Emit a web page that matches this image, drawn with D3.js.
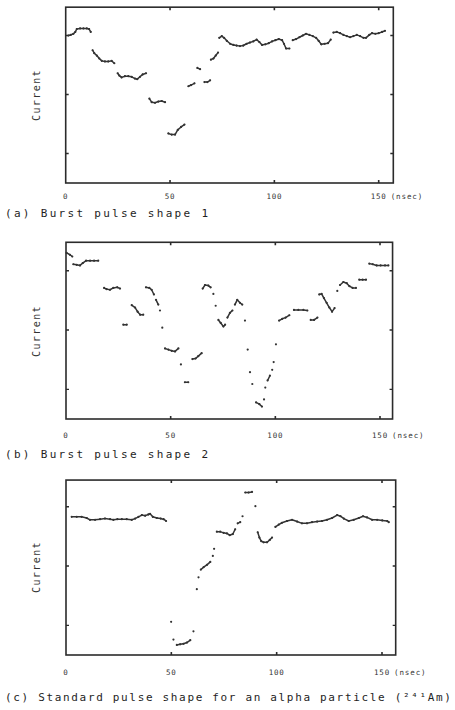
<!DOCTYPE html>
<html>
<head>
<meta charset="utf-8">
<script src="https://cdn.jsdelivr.net/npm/d3@7"></script>
<style>
  body { margin: 0; background: #fff; }
  svg { display: block; }
  text { font-family: "DejaVu Sans Mono", monospace; fill: #333; }
</style>
</head>
<body>
<svg id="chart" width="455" height="710"></svg>
<script>
// tick values and captions
var xTicks = [0, 50, 100, 150];
var yTicks = [0.5, 1.5, 2.5];
var captions = ["(a) Burst pulse shape 1", "(b) Burst pulse shape 2",
  "(c) Standard pulse shape for an alpha particle (\u00b2\u2074\u00b9Am)"];

// (a) burst pulse 1 : time (nsec), current (arb.)
var pulseATime = [1.3,2.4,3.7,4.6,5.3,6.9,8.5,10.1,11.2,12.0,
  12.9,13.7,14.9,16.1,17.3,18.8,20.4,22.0,23.3,
  24.9,25.7,26.8,28.4,30.0,31.6,33.2,34.3,35.6,36.9,38.5,
  40.1,41.2,42.8,44.4,46.0,47.6,
  49.2,50.8,52.4,53.7,55.3,56.9,
  58.8,60.1,61.7,63.1,64.4,66.5,67.9,69.2,
  69.6,70.8,71.9,73.0,
  73.6,74.8,75.9,77.2,78.8,80.4,81.9,83.5,85.1,86.7,88.3,89.9,91.5,92.8,94.1,95.7,97.3,98.9,
  100.5,102.1,103.7,104.6,105.6,107.2,108.8,110.4,112.0,113.6,115.2,116.8,118.4,120.0,121.2,
  122.5,124.1,125.7,127.0,128.3,129.9,131.5,133.1,134.7,136.3,137.9,139.5,141.1,142.7,143.9,
  145.5,146.8,148.4,150.0,151.6,153.0];
var pulseACurrent = [2.50,2.51,2.53,2.56,2.61,2.62,2.62,2.62,2.61,2.56,
  2.25,2.20,2.16,2.11,2.07,2.06,2.06,2.07,2.03,
  1.86,1.82,1.79,1.81,1.81,1.80,1.77,1.76,1.80,1.84,1.86,
  1.43,1.37,1.36,1.38,1.39,1.37,
  0.84,0.82,0.82,0.90,0.95,0.99,
  1.64,1.66,1.69,1.95,1.93,1.71,1.71,1.74,
  2.09,2.11,2.16,2.21,
  2.46,2.49,2.46,2.41,2.36,2.34,2.33,2.32,2.33,2.36,2.38,2.40,2.43,2.39,2.34,2.35,2.37,2.40,
  2.42,2.44,2.42,2.36,2.28,2.28,2.42,2.44,2.47,2.50,2.53,2.51,2.49,2.46,2.41,
  2.35,2.36,2.37,2.43,2.55,2.56,2.54,2.51,2.49,2.47,2.49,2.51,2.49,2.46,2.46,
  2.51,2.54,2.53,2.54,2.56,2.58];

// (b) burst pulse 2
var pulseBTime = [0.3,1.9,3.0,3.5,5.1,6.7,8.0,9.6,11.5,13.4,15.4,
  18.2,19.4,21.0,22.6,24.5,25.8,27.4,29.0,
  31.4,33.0,34.2,35.4,36.9,
  38.2,39.8,40.9,42.0,43.0,44.1,44.9,46.0,
  47.3,48.9,50.5,52.1,53.7,54.9,56.8,58.4,
  60.4,61.9,63.2,64.8,
  65.3,66.4,68.0,69.1,70.4,71.5,72.8,73.9,75.2,76.0,77.1,78.3,79.5,80.7,81.8,83.1,84.2,85.5,
  86.8,87.9,89.0,90.8,92.4,93.6,94.6,
  95.2,96.3,97.4,98.5,99.2,100.3,
  101.8,103.3,104.9,106.7,108.9,111.0,113.4,115.3,116.9,118.5,120.1,
  121.0,122.1,123.2,124.5,125.8,127.1,128.3,129.6,130.9,132.5,134.1,135.4,136.9,138.5,
  140.1,141.7,143.3,144.9,146.5,148.4,150.3,152.4,154.0];
var pulseBCurrent = [2.80,2.77,2.74,2.61,2.60,2.59,2.63,2.67,2.67,2.67,2.67,
  2.21,2.19,2.18,2.21,2.22,2.20,1.59,1.59,
  1.92,1.88,1.81,1.76,1.76,
  2.22,2.21,2.18,2.10,2.01,1.93,1.83,1.54,
  1.19,1.17,1.15,1.14,1.19,0.92,0.62,0.62,
  1.01,1.02,1.06,1.11,
  2.20,2.26,2.25,2.22,2.11,1.91,1.67,1.62,1.56,1.59,1.71,1.79,1.83,1.93,2.01,1.96,1.93,1.66,
  1.17,0.79,0.59,0.28,0.25,0.21,0.33,
  0.53,0.65,0.73,0.83,0.96,1.26,
  1.66,1.69,1.71,1.75,1.84,1.84,1.84,1.83,1.67,1.67,1.71,
  2.10,2.11,2.04,1.96,1.88,1.81,1.87,2.16,2.26,2.31,2.29,2.24,2.21,2.21,
  2.35,2.35,2.35,2.62,2.61,2.59,2.59,2.59,2.59];

// (c) standard alpha pulse (241Am)
var pulseCTime = [2.7,5.1,7.4,9.8,11.4,13.8,16.2,18.5,20.9,22.5,24.4,26.5,28.8,31.2,32.8,34.4,
  36.0,37.6,39.1,39.9,41.2,43.1,45.0,46.3,47.5,
  49.9,51.0,52.6,54.2,55.8,57.4,59.0,60.5,
  62.1,62.9,64.0,65.3,66.9,68.5,69.7,70.3,
  71.6,73.2,74.8,76.4,77.7,79.2,80.3,81.5,82.7,83.8,
  85.1,86.7,88.3,89.9,91.0,91.8,92.7,93.8,95.4,96.7,97.8,
  99.4,101.0,102.5,104.9,107.3,109.7,112.0,114.4,116.8,119.2,121.5,123.9,126.3,128.7,
  130.3,131.9,134.2,136.6,139.0,141.0,142.9,145.3,147.7,150.1,152.5,153.2];
var pulseCCurrent = [2.33,2.33,2.33,2.31,2.28,2.28,2.29,2.30,2.29,2.28,2.29,2.29,2.29,2.28,2.30,2.33,
  2.36,2.35,2.37,2.38,2.33,2.31,2.30,2.29,2.26,
  0.56,0.26,0.17,0.18,0.19,0.21,0.25,0.40,
  1.11,1.31,1.44,1.48,1.52,1.57,1.67,1.79,
  2.08,2.08,2.06,2.05,2.02,2.04,2.12,2.22,2.24,2.34,
  2.74,2.74,2.75,2.51,2.07,1.98,1.92,1.90,1.90,1.94,1.98,
  2.16,2.20,2.23,2.26,2.28,2.25,2.22,2.22,2.24,2.25,2.26,2.28,2.31,2.36,
  2.34,2.30,2.26,2.28,2.31,2.34,2.32,2.28,2.28,2.27,2.26,2.24];

var svg = d3.select("#chart");

// frame placement of each panel (pixels)
var panels = [
  {t: pulseATime, v: pulseACurrent, x0: 65.7, x150: 378.7, tMax: 157, bottom: 183, unit: 59, vTop: 2.98,
   labelY: 199, capY: 217, capW: 203, curX: 40, curY: 95, gap: 2.6},
  {t: pulseBTime, v: pulseBCurrent, x0: 66, x150: 380, tMax: 156, bottom: 419, unit: 59.3, vTop: 2.98,
   labelY: 438, capY: 458, capW: 203, curX: 40, curY: 331, gap: 2.6},
  {t: pulseCTime, v: pulseCCurrent, x0: 66, x150: 382, tMax: 156.5, bottom: 655, unit: 59.3, vTop: 2.95,
   labelY: 675, capY: 701, capW: 446, curX: 40, curY: 567, gap: 2.6}
];

panels.forEach(function(p, i) {
  var x = d3.scaleLinear().domain([0, 150]).range([p.x0, p.x150]);
  var y = d3.scaleLinear().domain([0, 3]).range([p.bottom, p.bottom - 3 * p.unit]);
  var g = svg.append("g");

  var xl = x(0), xr = x(p.tMax), yt = y(p.vTop), yb = y(0);

  // frame
  g.append("rect")
    .attr("x", xl).attr("y", yt)
    .attr("width", xr - xl).attr("height", yb - yt)
    .attr("fill", "none").attr("stroke", "#2b2b2b").attr("stroke-width", 1.6);

  // ticks on all four sides
  g.selectAll(".xt").data(xTicks.slice(1)).enter().append("path")
    .attr("d", function(d) {
      return "M" + x(d) + "," + yt + "v3M" + x(d) + "," + yb + "v-3";
    })
    .attr("stroke", "#2b2b2b").attr("stroke-width", 1.6);
  g.selectAll(".yt").data(yTicks).enter().append("path")
    .attr("d", function(d) {
      return "M" + xl + "," + y(d) + "h3M" + xr + "," + y(d) + "h-3";
    })
    .attr("stroke", "#2b2b2b").attr("stroke-width", 1.4);

  // tick labels
  g.selectAll(".xl").data(xTicks).enter().append("text")
    .attr("x", function(d) { return x(d); })
    .attr("y", p.labelY)
    .attr("text-anchor", "middle")
    .attr("font-size", 7.5)
    .attr("letter-spacing", 0.8)
    .text(function(d) { return d; });
  g.append("text")
    .attr("x", x(150) + 12).attr("y", p.labelY)
    .attr("font-size", 7.5).attr("letter-spacing", 0.9)
    .text("(nsec)");

  // y title
  g.append("text")
    .attr("transform", "translate(" + p.curX + "," + p.curY + ") rotate(-90)")
    .attr("text-anchor", "middle")
    .attr("font-size", 10)
    .attr("letter-spacing", 1.4)
    .text("Current");

  // caption
  g.append("text")
    .attr("x", 5).attr("y", p.capY)
    .attr("font-size", 11)
    .style("fill", "#1e1e1e")
    .attr("textLength", p.capW)
    .attr("lengthAdjust", "spacing")
    .text(captions[i]);

  // trace: join neighbouring samples at similar level into short strokes
  var pts = p.t.map(function(t, k) { return [t, p.v[k]]; });
  var segs = [];
  for (var k = 1; k < pts.length; k++) {
    if (pts[k][0] - pts[k - 1][0] <= p.gap && Math.abs(pts[k][1] - pts[k - 1][1]) < 0.09) {
      segs.push([pts[k - 1], pts[k]]);
    }
  }
  g.selectAll(".seg").data(segs).enter().append("line")
    .attr("x1", function(d) { return x(d[0][0]); })
    .attr("y1", function(d) { return y(d[0][1]); })
    .attr("x2", function(d) { return x(d[1][0]); })
    .attr("y2", function(d) { return y(d[1][1]); })
    .attr("stroke", "#333").attr("stroke-width", 1.5)
    .attr("stroke-linecap", "round");
  g.selectAll(".dot").data(pts).enter().append("circle")
    .attr("cx", function(d) { return x(d[0]); })
    .attr("cy", function(d) { return y(d[1]); })
    .attr("r", 1.1)
    .attr("fill", "#333");
});
</script>
</body>
</html>
